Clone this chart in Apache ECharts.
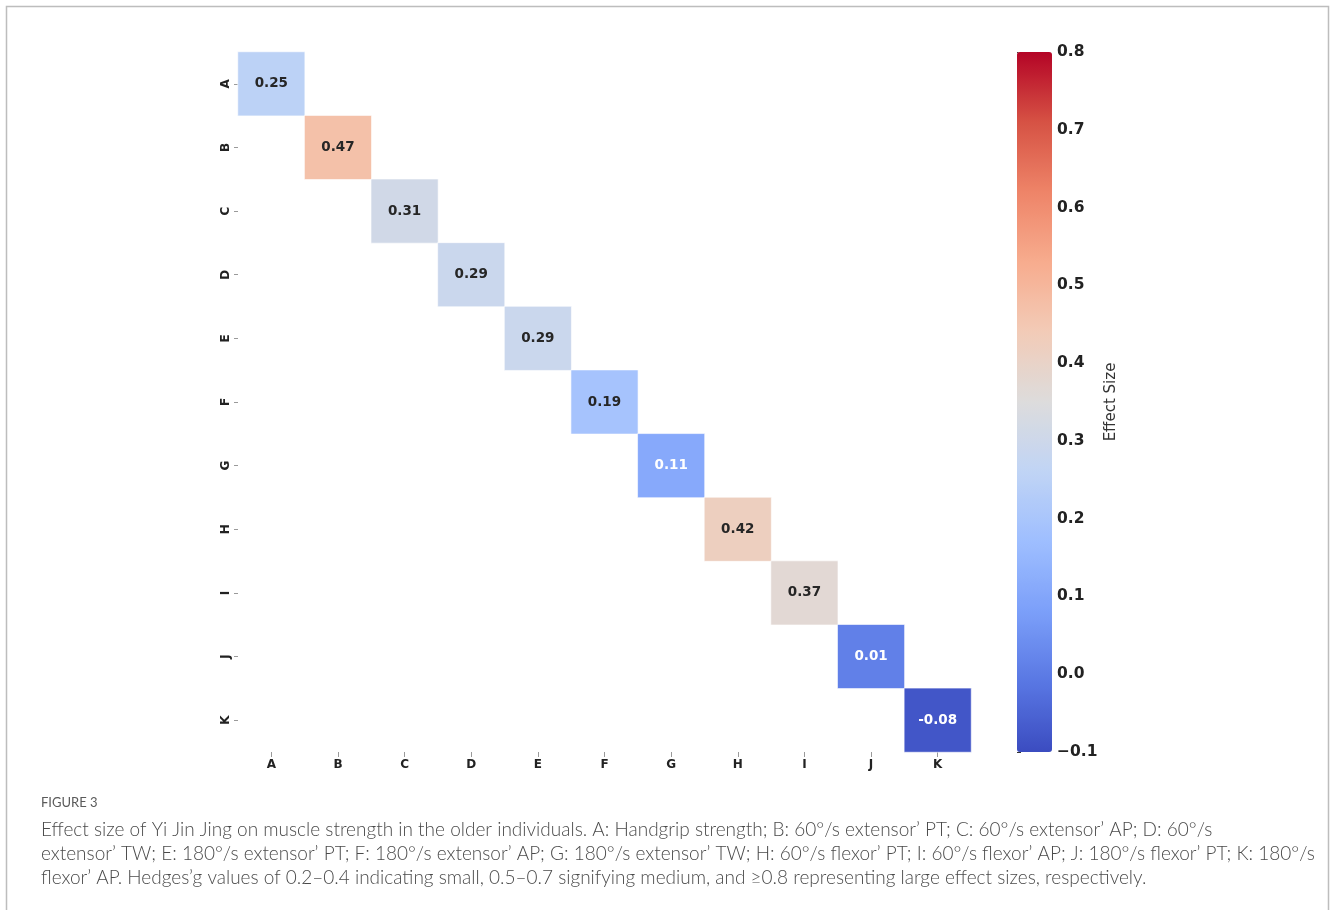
<!DOCTYPE html>
<html>
<head>
<meta charset="utf-8">
<script src="https://cdn.jsdelivr.net/npm/echarts@6/dist/echarts.min.js"></script>
<style>
html,body{margin:0;padding:0;background:#fff;}
#c{width:1330px;height:910px;}
</style>
</head>
<body>
<div id="c"></div>
<script>
var categories = ['A','B','C','D','E','F','G','H','I','J','K'];
var effectValues = [0.25, 0.47, 0.31, 0.29, 0.29, 0.19, 0.11, 0.42, 0.37, 0.01, -0.08];
var colorbarTicks = [-0.1, 0.0, 0.1, 0.2, 0.3, 0.4, 0.5, 0.6, 0.7, 0.8];
var captionTitle = 'FIGURE 3';
var captionLines = [
  'Effect size of Yi Jin Jing on muscle strength in the older individuals. A: Handgrip strength; B: 60°/s extensor\u2019 PT; C: 60°/s extensor\u2019 AP; D: 60°/s',
  'extensor\u2019 TW; E: 180°/s extensor\u2019 PT; F: 180°/s extensor\u2019 AP; G: 180°/s extensor\u2019 TW; H: 60°/s flexor\u2019 PT; I: 60°/s flexor\u2019 AP; J: 180°/s flexor\u2019 PT; K: 180°/s',
  'flexor\u2019 AP. Hedges\u2019g values of 0.2\u20130.4 indicating small, 0.5\u20130.7 signifying medium, and \u22650.8 representing large effect sizes, respectively.'
];

var coolwarm = ['#3b4cc0','#5977e3','#7b9ff9','#9ebeff','#c0d4f5','#dddcdc','#f2cbb7','#f7ac8e','#ee8468','#d65244','#b40426'];

var heatData = effectValues.map(function(v, i){
  return {
    value: [i, i, v],
    label: { color: v < 0.15 ? '#ffffff' : '#262626' }
  };
});

var chart = echarts.init(document.getElementById('c'), null, {renderer:'canvas'});
var option = {
  backgroundColor: '#ffffff',
  animation: false,
  grid: [
    { left: 238, top: 52, width: 733, height: 700 },
    { left: 1017, top: 52, width: 35, height: 700 }
  ],
  xAxis: [
    {
      type: 'category', gridIndex: 0, data: categories, position: 'bottom',
      axisLine: { show: false },
      axisTick: { show: true, alignWithLabel: true, length: 5, lineStyle: { color: '#9a9a9a' } },
      axisLabel: { fontFamily: 'DejaVu Sans', fontWeight: 'bold', fontSize: 12, color: '#222', margin: 7 },
      splitLine: { show: false }
    },
    {
      type: 'value', gridIndex: 1, show: false, min: 0, max: 1
    }
  ],
  yAxis: [
    {
      type: 'category', gridIndex: 0, data: categories, inverse: true,
      axisLine: { show: false },
      axisTick: { show: true, alignWithLabel: true, length: 4, lineStyle: { color: '#9a9a9a' } },
      axisLabel: { fontFamily: 'DejaVu Sans', fontWeight: 'bold', fontSize: 12, color: '#222', margin: 6, rotate: 90 },
      splitLine: { show: false }
    },
    {
      type: 'value', gridIndex: 1, position: 'right',
      min: colorbarTicks[0], max: colorbarTicks[colorbarTicks.length - 1], interval: 0.1,
      axisLine: { show: false },
      axisTick: { show: true, length: 4, lineStyle: { color: '#333' } },
      axisLabel: {
        fontFamily: 'DejaVu Sans', fontWeight: 'bold', fontSize: 15.5, color: '#222', margin: 5,
        padding: [4, 0, 0, 0],
        formatter: function(v){ var s = (Math.round(v*10)/10).toFixed(1); return s.replace('-', '\u2212'); }
      },
      splitLine: { show: false },
      name: 'Effect Size', nameLocation: 'middle', nameRotate: 90, nameGap: 52,
      nameTextStyle: { fontFamily: 'DejaVu Sans', fontSize: 15, color: '#333' }
    }
  ],
  visualMap: {
    type: 'continuous',
    min: -0.1, max: 0.8,
    dimension: 2,
    seriesIndex: 0,
    calculable: false,
    left: 1017, top: 52,
    padding: 0,
    itemWidth: 35, itemHeight: 700,
    text: null,
    showLabel: false,
    inRange: { color: coolwarm }
  },
  series: [{
    type: 'heatmap',
    xAxisIndex: 0, yAxisIndex: 0,
    data: heatData,
    itemStyle: { borderColor: 'rgba(255,255,255,0.6)', borderWidth: 1 },
    label: {
      show: true,
      fontFamily: 'DejaVu Sans', fontWeight: 'bold', fontSize: 13.5,
      formatter: function(p){ return p.value[2].toFixed(2); }
    },
    emphasis: { disabled: true }
  }],
  graphic: [
    {
      type: 'rect', silent: true,
      shape: { x: 6.5, y: 6.5, width: 1322, height: 960 },
      style: { fill: null, stroke: '#bdbdbd', lineWidth: 1.5 }
    },
    {
      type: 'text', left: 41, top: 796,
      style: { text: captionTitle, font: '400 13px Lato', fill: '#5a5a5a' }
    },
    {
      type: 'text', left: 41, top: 818,
      style: { text: captionLines.join('\n'), font: '300 19px Lato', fill: '#4a4a4a', lineHeight: 24 }
    }
  ]
};
chart.setOption(option);
</script>
</body>
</html>
